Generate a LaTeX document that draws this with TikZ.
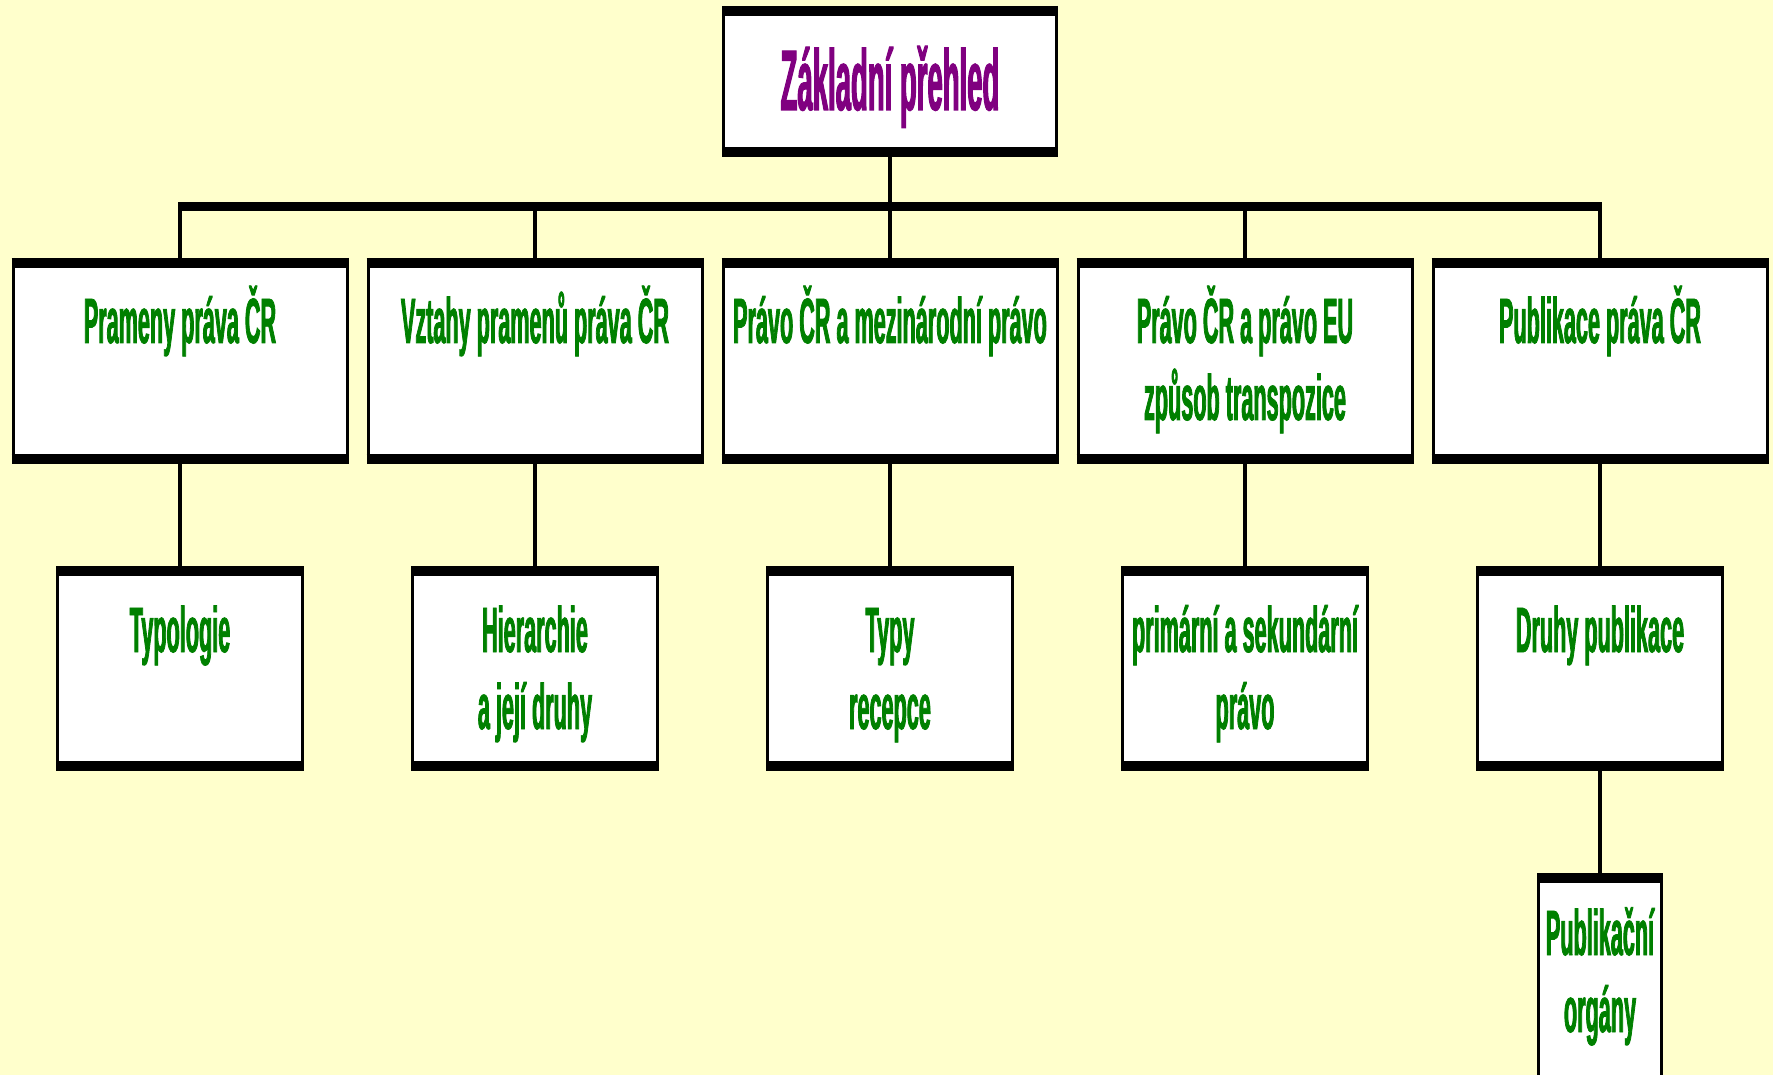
\documentclass[tikz,border=0pt]{standalone}
\usepackage{fontspec}
\setmainfont{Liberation Sans}
\newfontfamily\titlefont{Liberation Sans}[FakeStretch=0.32,FakeBold=1.2]
\newfontfamily\boxfont{Liberation Sans}[FakeStretch=0.338,FakeBold=1.2]
\definecolor{bgyel}{RGB}{255,255,204}
\definecolor{ttlpurple}{RGB}{128,0,128}
\definecolor{grn}{RGB}{0,128,0}
\newcommand\fancyrim[1]{%
  \draw[sideline] ([xshift=0.75pt]#1.north west) -- ([xshift=0.75pt]#1.south west);
  \draw[sideline] ([xshift=-0.75pt]#1.north east) -- ([xshift=-0.75pt]#1.south east);
  \draw[rimline] ([yshift=-2.5pt]#1.north west) -- ([yshift=-2.5pt]#1.north east);
  \draw[rimline] ([yshift=2.5pt]#1.south west) -- ([yshift=2.5pt]#1.south east);
}
\begin{document}
\begin{tikzpicture}[x=0.5pt,y=-0.5pt,
  box/.style={fill=white, draw=none, inner sep=0pt, outer sep=0pt},
  lone/.style={box, minimum width=168.5pt, minimum height=103pt},
  ltwo/.style={box, minimum width=124pt, minimum height=102.5pt},
  lthree/.style={box, minimum width=63pt, minimum height=111pt},
  tbox/.style={box, minimum width=168pt, minimum height=75.5pt},
  lbl/.style={inner sep=0pt, anchor=base, text=grn, font=\boxfont\bfseries\fontsize{32}{38.5}\selectfont},
  ttl/.style={inner sep=0pt, anchor=base, text=ttlpurple, font=\titlefont\bfseries\fontsize{43}{50}\selectfont},
  conn/.style={line width=1.75pt},
  busline/.style={line width=4.5pt},
  sideline/.style={line width=1.5pt},
  rimline/.style={line width=5pt},
]
\fill[bgyel] (0,0) rectangle (1773,1075);
\useasboundingbox (0,0) rectangle (1773,1075);
\clip (0,0) rectangle (1773,1075);

\coordinate (busy) at (0,207);

% boxes
\node[tbox] (t) at (890,81.5) {};
\node[lone] (b1) at (180,361) {};
\node[lone] (b2) at (535,361) {};
\node[lone] (b3) at (890,361) {};
\node[lone] (b4) at (1245,361) {};
\node[lone] (b5) at (1600,361) {};
\node[ltwo] (c1) at (180,668.5) {};
\node[ltwo] (c2) at (535,668.5) {};
\node[ltwo] (c3) at (890,668.5) {};
\node[ltwo] (c4) at (1245,668.5) {};
\node[ltwo] (c5) at (1600,668.5) {};
\node[lthree] (d5) at (1600,984) {};

% connectors
\draw[conn] (t.south) -- (b3.north);
\foreach \i in {1,2,4,5} \draw[conn] (b\i.north) -- (b\i.north |- busy);
\draw[busline] ([xshift=-0.9pt]b1.north |- busy) -- ([xshift=0.9pt]b5.north |- busy);
\foreach \i in {1,...,5} \draw[conn] (b\i.south) -- (c\i.north);
\draw[conn] (c5.south) -- (d5.north);

% borders
\foreach \n in {t,b1,b2,b3,b4,b5,c1,c2,c3,c4,c5,d5} {\fancyrim{\n}}

% texts
\node[ttl] (tt) at (890,110) {Základní přehled};
\node[lbl] (x1) at (180,343) {Prameny práva ČR};
\node[lbl] (x2) at (535,343) {Vztahy pramenů práva ČR};
\node[lbl] (x3) at (890,343) {Právo ČR a mezinárodní právo};
\node[lbl] (x4) at (1245,343) {\begin{tabular}[t]{@{}c@{}}Právo ČR a právo EU\\způsob transpozice\end{tabular}};
\node[lbl] (x5) at (1600,343) {Publikace práva ČR};
\node[lbl] (y1) at (180,652) {Typologie};
\node[lbl] (y2) at (535,652) {\begin{tabular}[t]{@{}c@{}}Hierarchie\\a její druhy\end{tabular}};
\node[lbl] (y3) at (890,652) {\begin{tabular}[t]{@{}c@{}}Typy\\recepce\end{tabular}};
\node[lbl] (y4) at (1245,652) {\begin{tabular}[t]{@{}c@{}}primární a sekundární\\právo\end{tabular}};
\node[lbl] (y5) at (1600,652) {Druhy publikace};
\node[lbl] (z5) at (1600,955) {\begin{tabular}[t]{@{}c@{}}Publikační\\orgány\end{tabular}};
\end{tikzpicture}
\end{document}
